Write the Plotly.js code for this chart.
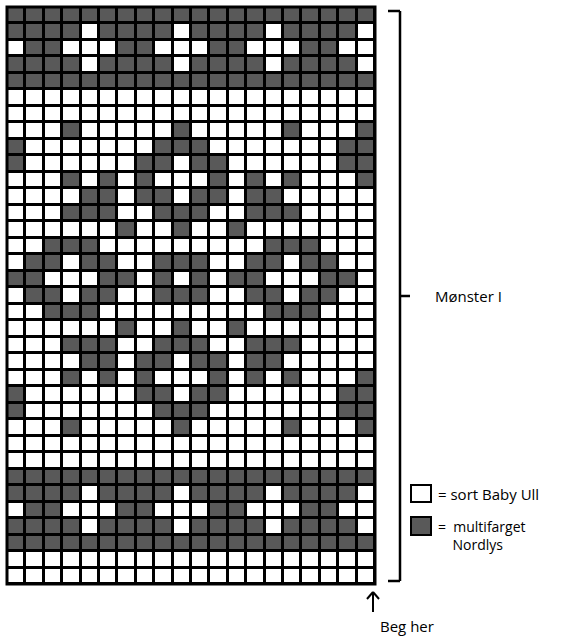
<!DOCTYPE html>
<html>
<head>
<meta charset="utf-8">
<script src="https://cdn.plot.ly/plotly-3.0.1.min.js"></script>
<style>html,body{margin:0;padding:0;background:#fff;}#chart{width:563px;height:638px;}</style>
</head>
<body>
<div id="chart"></div>
<script>
// Chart data: one string per chart row (top to bottom), '1' = multifarget Nordlys (dark), '0' = sort Baby Ull (white)
const rowsTop = [
  "11111111111111111111",
  "11110111101111011110",
  "01100011000110001100",
  "11110111101111011110",
  "11111111111111111111",
  "00000000000000000000",
  "00000000000000000000"
];
const rowsStar = [
  "00010000010000010001",
  "10000000111000000011",
  "10000001101100000011",
  "00010101000101010001",
  "00001101101101100000",
  "00011100111001110000",
  "00000010010010000000",
  "00111000000000111000",
  "01101100111001101100",
  "11000110101011000110",
  "01101100111001101100",
  "00111000000000111000",
  "00000010010010000000",
  "00011100111001110000",
  "00001101101101100000",
  "00010101000101010001",
  "10000001101100000011",
  "10000000111000000011",
  "00010000010000010001"
];
const rowsBottom = [
  "00000000000000000000",
  "00000000000000000000",
  "11111111111111111111",
  "11110111101111011110",
  "01100011000110001100",
  "11110111101111011110",
  "11111111111111111111",
  "00000000000000000000",
  "00000000000000000000"
];
const legendLabels = ["= sort Baby Ull", "=  multifarget", "Nordlys"];
const sectionLabel = "Mønster I";
const startLabel = "Beg her";
const colors = {white: "#ffffff", dark: "#595959"};

const allRows = rowsTop.concat(rowsStar, rowsBottom);
const z = allRows.map(r => r.split("").map(Number));
const nCols = z[0].length, nRows = z.length;

// pixel -> paper helpers
const L = 7, R = 375, T = 7, B = 584;
const px = x => (x - L) / (R - L);
const py = y => (B - y) / (B - T);
const line = (x0, y0, x1, y1, w) => ({type: "line", xref: "paper", yref: "paper",
  x0: px(x0), y0: py(y0), x1: px(x1), y1: py(y1), line: {color: "#000", width: w || 2.5}});

const shapes = [
  {type: "rect", xref: "paper", yref: "paper", x0: 0, y0: 0, x1: 1, y1: 1, line: {color: "#000", width: 3}},
  line(388, 11, 400, 11), line(400, 11, 400, 581), line(388, 581, 400, 581), line(400, 296, 410, 296),
  {type: "rect", xref: "paper", yref: "paper", x0: px(411), x1: px(431), y0: py(502), y1: py(485),
    fillcolor: colors.white, line: {color: "#000", width: 2}},
  {type: "rect", xref: "paper", yref: "paper", x0: px(411), x1: px(431), y0: py(535), y1: py(517),
    fillcolor: colors.dark, line: {color: "#000", width: 2}},
  line(373, 592, 373, 612, 2), line(367, 599, 373, 592, 2), line(373, 592, 379, 599, 2)
];

const fnt = {family: "'Open Sans', Lato, sans-serif", size: 15, color: "#000"};
const ann = (x, y, text, f) => ({xref: "paper", yref: "paper", x: px(x), y: py(y), text: text,
  showarrow: false, xanchor: "left", yanchor: "middle", align: "left", font: f || fnt});
const annotations = [
  ann(433, 296, sectionLabel),
  ann(436, 494, legendLabels[0]),
  ann(436, 535, legendLabels[1] + "<br>\u00a0\u00a0\u00a0\u00a0" + legendLabels[2],
      {family: fnt.family, size: 14, color: "#000"}),
  ann(378, 626, startLabel)
];

Plotly.newPlot("chart", [{
  type: "heatmap",
  z: z,
  x: Array.from({length: nCols}, (_, i) => i),
  y: Array.from({length: nRows}, (_, i) => i),
  zmin: 0, zmax: 1,
  colorscale: [[0, colors.white], [1, colors.dark]],
  showscale: false,
  xgap: 3, ygap: 3,
  hoverinfo: "skip"
}], {
  width: 563, height: 638,
  margin: {l: L, r: 563 - R, t: T, b: 638 - B, pad: 0},
  paper_bgcolor: "#fff",
  plot_bgcolor: "#000",
  xaxis: {range: [-0.5, nCols - 0.5], showgrid: false, zeroline: false, showticklabels: false, ticks: "", fixedrange: true},
  yaxis: {range: [nRows - 0.5, -0.5], showgrid: false, zeroline: false, showticklabels: false, ticks: "", fixedrange: true},
  shapes: shapes,
  annotations: annotations,
  showlegend: false
}, {displayModeBar: false, staticPlot: true});
</script>
</body>
</html>
